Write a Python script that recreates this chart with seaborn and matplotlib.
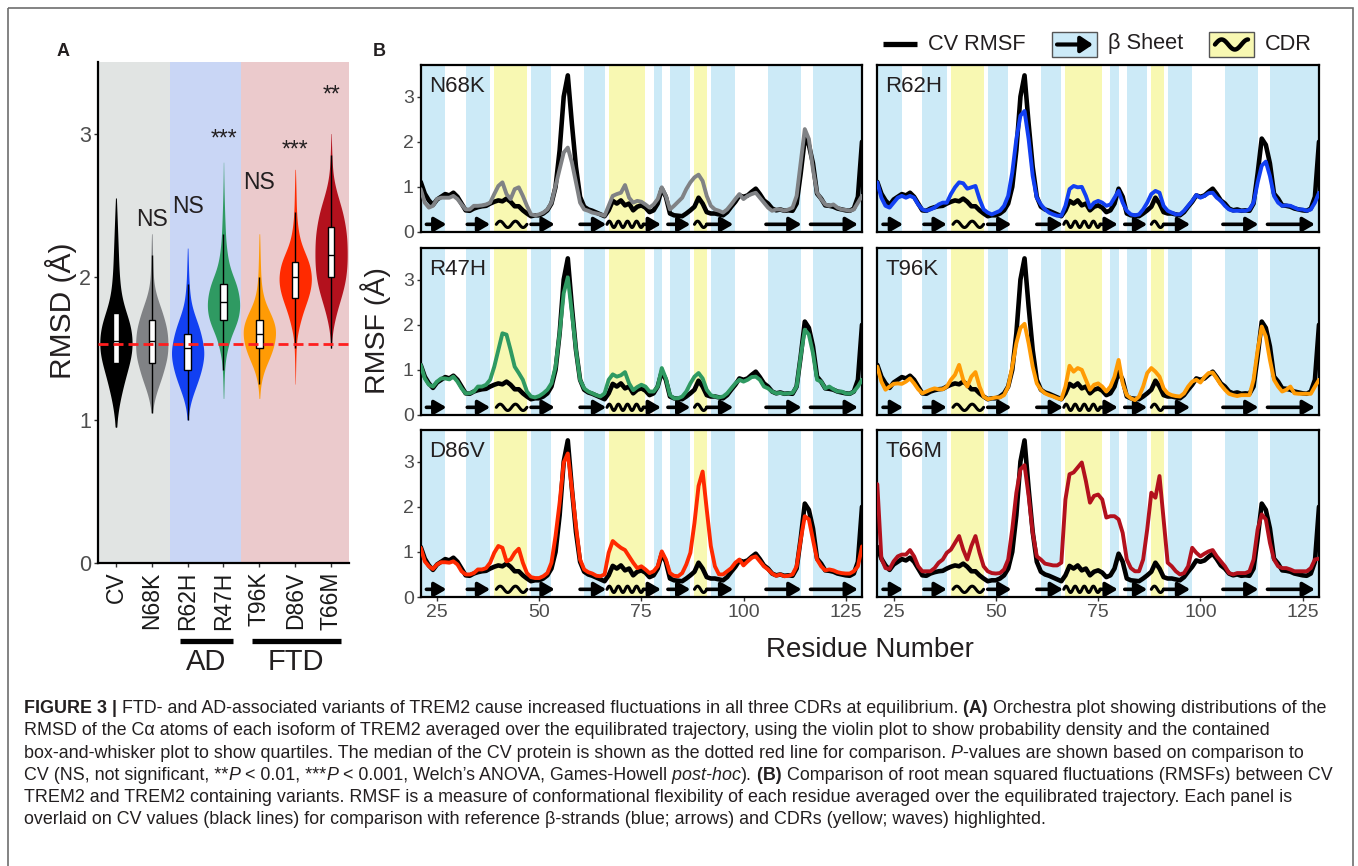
import numpy as np
import pandas as pd
import matplotlib
matplotlib.use("Agg")
import matplotlib.pyplot as plt
from matplotlib.patches import Rectangle
from matplotlib.font_manager import FontProperties, findfont
import seaborn as sns

W, H = 1358, 866

# ---------------- panel A : RMSD distributions
# violin width (px) read at each RMSD level -> used as histogram counts
ISOFORMS = ["CV", "N68K", "R62H", "R47H", "T96K", "D86V", "T66M"]
RMSD_BINS = [0.90, 0.95, 1.00, 1.05, 1.10, 1.15, 1.20, 1.25, 1.30, 1.35, 1.40,
             1.45, 1.50, 1.55, 1.60, 1.65, 1.70, 1.75, 1.80, 1.85, 1.90, 1.95,
             2.00, 2.05, 2.10, 2.15, 2.20, 2.25, 2.30, 2.35, 2.40, 2.45, 2.50,
             2.55, 2.60, 2.65, 2.70, 2.75, 2.80, 2.85, 2.90, 2.95, 3.00]
WIDTH_CV = [0, 1, 2.5, 4, 6, 9, 12, 15.5, 19, 23, 27, 30, 32, 32, 31, 29, 25, 20,
            15.5, 12, 9.5, 8, 7, 6, 5.5, 5, 4.5, 4, 3.5, 3, 2.5, 2, 1.5, 1,
            0, 0, 0, 0, 0, 0, 0, 0, 0]
WIDTH_N68K = [0, 0, 0, 1, 3, 6, 10, 15, 20, 24, 28, 31, 32, 32, 31, 29, 25, 21,
              16, 11, 7, 4.5, 3, 2.5, 2, 1.5, 1.2, 1, 0.6,
              0, 0, 0, 0, 0, 0, 0, 0, 0, 0, 0, 0, 0, 0]
WIDTH_R62H = [0, 0, 1, 2, 4.5, 8, 13, 18, 23, 27, 30, 32, 31.5, 29, 26, 22, 17,
              12, 8, 5.5, 4, 3, 2.2, 1.8, 1.4, 1, 0.6,
              0, 0, 0, 0, 0, 0, 0, 0, 0, 0, 0, 0, 0, 0, 0, 0]
WIDTH_R47H = [0, 0, 0, 0, 0, 0.5, 0.8, 1, 1.5, 2, 3, 5, 8, 11.5, 16, 23, 28, 31,
              32, 31, 28.5, 25, 19, 13.5, 10, 7.5, 6, 4.5, 3.8, 3.2, 2.7, 2.2,
              1.8, 1.4, 1.1, 0.8, 0.6, 0.4, 0.3, 0, 0, 0, 0]
WIDTH_T96K = [0, 0, 0, 0, 0, 0.7, 1.5, 3, 6, 10, 16, 22, 27, 30.5, 32, 31.5, 27,
              21, 14, 9, 6, 4, 3, 2.4, 2, 1.6, 1.3, 1, 0.6,
              0, 0, 0, 0, 0, 0, 0, 0, 0, 0, 0, 0, 0, 0]
WIDTH_D86V = [0, 0, 0, 0, 0, 0, 0, 0.3, 0.5, 0.8, 1, 1.4, 1.8, 2.5, 4.5, 7.5, 11,
              15, 20, 25, 29, 31.5, 32, 30, 27, 21, 15, 10, 7, 5, 3.5, 2.6, 2.1,
              1.8, 1.5, 1.2, 0.8, 0.5, 0, 0, 0, 0, 0]
WIDTH_T66M = [0, 0, 0, 0, 0, 0, 0, 0, 0, 0, 0, 0, 0.5, 1.2, 2.5, 4.5, 7.5, 11,
              15, 19.5, 23.5, 27, 29.5, 31, 32, 32, 32, 31.5, 30.5, 28.5, 26, 23,
              19, 14.5, 10.5, 7, 4.5, 3, 2.2, 1.6, 1.1, 0.7, 0.4]
SIG_LABELS = ["", "NS", "NS", "***", "NS", "***", "**"]
CV_MEDIAN = 1.53
GROUPS = ["AD", "FTD"]

# ---------------- panel B : per-residue RMSF
RESIDUES = list(range(21, 130))
RMSF_CV = [1.11, 0.85, 0.70, 0.60, 0.72, 0.78, 0.84, 0.81, 0.87, 0.78,
           0.63, 0.48, 0.47, 0.52, 0.55, 0.57, 0.58, 0.63, 0.67, 0.70,
           0.68, 0.74, 0.67, 0.57, 0.57, 0.48, 0.41, 0.35, 0.37, 0.37,
           0.41, 0.48, 0.63, 1.00, 1.81, 3.00, 3.47, 2.40, 1.44, 0.78,
           0.56, 0.50, 0.47, 0.43, 0.39, 0.35, 0.48, 0.69, 0.63, 0.70,
           0.59, 0.63, 0.48, 0.56, 0.59, 0.54, 0.44, 0.48, 0.63, 0.96,
           0.78, 0.41, 0.37, 0.36, 0.35, 0.41, 0.48, 0.56, 0.76, 0.63,
           0.44, 0.41, 0.41, 0.39, 0.37, 0.44, 0.56, 0.67, 0.81, 0.78,
           0.81, 0.89, 0.96, 0.84, 0.70, 0.63, 0.52, 0.48, 0.50, 0.47,
           0.48, 0.47, 0.63, 1.30, 2.07, 1.93, 1.52, 0.85, 0.74, 0.59,
           0.58, 0.56, 0.52, 0.50, 0.48, 0.47, 0.52, 0.78, 2.00]
RMSF_N68K = [0.95, 0.65, 0.54, 0.58, 0.73, 0.76, 0.76, 0.76, 0.80, 0.73,
             0.61, 0.50, 0.50, 0.58, 0.58, 0.59, 0.61, 0.65, 0.84, 1.02,
             1.10, 0.84, 0.73, 0.95, 0.99, 0.80, 0.58, 0.39, 0.37, 0.39,
             0.43, 0.50, 0.65, 1.02, 1.39, 1.76, 1.87, 1.54, 1.10, 0.65,
             0.50, 0.47, 0.43, 0.41, 0.39, 0.36, 0.58, 0.80, 0.84, 0.87,
             1.04, 0.76, 0.65, 0.69, 0.67, 0.61, 0.54, 0.61, 0.73, 0.99,
             0.80, 0.50, 0.58, 0.67, 0.76, 0.95, 1.10, 1.21, 1.27, 1.13,
             0.80, 0.58, 0.50, 0.47, 0.43, 0.50, 0.61, 0.73, 0.84, 0.73,
             0.80, 0.84, 0.87, 0.76, 0.65, 0.54, 0.47, 0.50, 0.50, 0.47,
             0.50, 0.54, 0.80, 1.54, 2.28, 2.06, 1.39, 0.87, 0.73, 0.61,
             0.58, 0.61, 0.54, 0.50, 0.49, 0.47, 0.50, 0.65, 0.80]
RMSF_R62H = [1.10, 0.76, 0.58, 0.54, 0.65, 0.76, 0.80, 0.76, 0.80, 0.76,
             0.61, 0.50, 0.47, 0.50, 0.54, 0.61, 0.65, 0.65, 0.84, 0.99,
             1.10, 1.08, 0.96, 0.99, 1.02, 0.73, 0.50, 0.43, 0.39, 0.43,
             0.47, 0.58, 0.80, 1.32, 2.06, 2.58, 2.68, 2.06, 1.24, 0.76,
             0.61, 0.50, 0.43, 0.39, 0.36, 0.36, 0.58, 0.95, 1.02, 0.99,
             1.00, 0.80, 0.54, 0.65, 0.69, 0.65, 0.58, 0.61, 0.76, 0.91,
             0.65, 0.47, 0.39, 0.37, 0.39, 0.50, 0.65, 0.84, 0.91, 0.87,
             0.58, 0.47, 0.43, 0.39, 0.39, 0.47, 0.58, 0.69, 0.82, 0.76,
             0.80, 0.86, 0.87, 0.76, 0.69, 0.58, 0.50, 0.47, 0.47, 0.47,
             0.47, 0.50, 0.65, 1.10, 1.47, 1.56, 1.24, 0.80, 0.65, 0.58,
             0.59, 0.58, 0.54, 0.50, 0.50, 0.47, 0.50, 0.65, 0.87]
RMSF_R47H = [1.11, 0.81, 0.67, 0.63, 0.74, 0.81, 0.81, 0.79, 0.85, 0.74,
             0.59, 0.48, 0.48, 0.52, 0.63, 0.63, 0.67, 0.78, 1.07, 1.44,
             1.81, 1.78, 1.44, 1.07, 0.93, 0.78, 0.52, 0.41, 0.39, 0.42,
             0.48, 0.56, 0.70, 1.07, 1.81, 2.70, 3.05, 2.26, 1.44, 0.78,
             0.59, 0.52, 0.48, 0.44, 0.41, 0.48, 0.78, 0.90, 0.85, 0.88,
             0.95, 0.70, 0.55, 0.62, 0.67, 0.63, 0.52, 0.52, 0.63, 1.04,
             0.81, 0.44, 0.37, 0.37, 0.41, 0.52, 0.70, 0.85, 0.93, 0.81,
             0.56, 0.44, 0.41, 0.39, 0.41, 0.48, 0.59, 0.70, 0.78, 0.74,
             0.78, 0.84, 0.85, 0.78, 0.63, 0.59, 0.52, 0.48, 0.49, 0.47,
             0.48, 0.49, 0.63, 1.30, 1.89, 1.78, 1.37, 0.78, 0.74, 0.59,
             0.63, 0.57, 0.52, 0.52, 0.48, 0.47, 0.52, 0.63, 0.78]
RMSF_T96K = [1.07, 0.74, 0.56, 0.63, 0.69, 0.70, 0.69, 0.74, 0.81, 0.70,
             0.57, 0.48, 0.52, 0.56, 0.59, 0.57, 0.57, 0.63, 0.78, 0.89,
             1.11, 0.78, 0.63, 0.85, 0.95, 0.63, 0.41, 0.35, 0.37, 0.39,
             0.39, 0.44, 0.63, 1.07, 1.59, 1.93, 2.02, 1.59, 1.07, 0.70,
             0.56, 0.48, 0.44, 0.41, 0.37, 0.35, 0.63, 1.09, 0.96, 1.04,
             1.00, 0.78, 0.56, 0.67, 0.70, 0.63, 0.52, 0.63, 0.85, 1.22,
             0.70, 0.44, 0.37, 0.33, 0.41, 0.63, 0.93, 1.04, 0.96, 0.85,
             0.59, 0.48, 0.44, 0.42, 0.41, 0.48, 0.63, 0.74, 0.78, 0.72,
             0.84, 0.93, 0.94, 0.81, 0.67, 0.56, 0.47, 0.44, 0.42, 0.44,
             0.44, 0.44, 0.78, 1.44, 1.96, 1.74, 1.22, 0.78, 0.63, 0.52,
             0.56, 0.63, 0.48, 0.47, 0.47, 0.47, 0.47, 0.63, 0.78]
RMSF_D86V = [1.09, 0.79, 0.68, 0.62, 0.72, 0.77, 0.77, 0.76, 0.79, 0.72,
             0.57, 0.50, 0.50, 0.53, 0.61, 0.61, 0.64, 0.76, 0.98, 1.13,
             1.09, 0.79, 0.83, 0.98, 1.07, 0.76, 0.53, 0.44, 0.42, 0.42,
             0.46, 0.53, 0.76, 1.35, 2.09, 2.98, 3.18, 2.39, 1.57, 0.83,
             0.61, 0.55, 0.52, 0.47, 0.46, 0.50, 0.98, 1.24, 1.16, 1.09,
             1.04, 0.90, 0.76, 0.64, 0.68, 0.61, 0.53, 0.57, 0.68, 1.01,
             0.83, 0.53, 0.47, 0.46, 0.53, 0.72, 0.98, 1.64, 2.46, 2.78,
             1.94, 1.13, 0.68, 0.50, 0.50, 0.57, 0.64, 0.76, 0.83, 0.70,
             0.79, 0.87, 0.90, 0.79, 0.68, 0.61, 0.52, 0.47, 0.50, 0.46,
             0.47, 0.50, 0.68, 1.27, 1.79, 1.72, 1.27, 0.83, 0.68, 0.59,
             0.61, 0.59, 0.55, 0.53, 0.52, 0.52, 0.57, 0.68, 1.12]
RMSF_T66M = [2.50, 0.85, 0.64, 0.62, 0.79, 0.90, 0.94, 0.94, 1.04, 0.90,
             0.68, 0.57, 0.57, 0.57, 0.64, 0.76, 0.83, 0.98, 1.05, 1.20,
             1.35, 1.05, 0.83, 1.13, 1.35, 0.98, 0.68, 0.57, 0.53, 0.52,
             0.53, 0.61, 0.83, 1.50, 2.31, 2.83, 2.92, 2.24, 1.42, 0.90,
             0.83, 0.74, 0.72, 0.70, 0.70, 0.76, 2.16, 2.72, 2.76, 2.87,
             2.98, 2.57, 2.09, 2.24, 2.27, 2.16, 1.76, 1.79, 1.79, 1.72,
             1.42, 0.83, 0.64, 0.57, 0.57, 0.83, 1.50, 2.31, 2.20, 2.68,
             1.72, 0.76, 0.68, 0.57, 0.50, 0.53, 0.68, 1.09, 0.98, 0.90,
             0.96, 1.01, 1.04, 0.90, 0.79, 0.68, 0.53, 0.50, 0.53, 0.53,
             0.53, 0.57, 0.83, 1.50, 1.83, 1.72, 1.20, 0.83, 0.68, 0.64,
             0.64, 0.61, 0.57, 0.57, 0.57, 0.57, 0.64, 0.83, 0.85]
BETA_STRANDS = [(21, 27), (32, 38), (48, 53), (61, 66), (78, 80), (82, 87),
                (92, 98), (106, 114), (117, 129)]
CDRS = [(39, 47), (67, 76), (88, 91)]
ARROW_SPANS = [(22.4, 27.3), (32.4, 38.0), (48.0, 53.8), (60.0, 66.4), (75.5, 79.8),
               (81.5, 87.0), (91.0, 97.5), (105.5, 114.2), (116.4, 128.0)]
WAVE_SPANS = [(39.5, 47.0), (66.6, 75.5), (88.0, 91.0)]
WAVE_BUMPS = [2, 4, 1]
PANELS = ["N68K", "R62H", "R47H", "T96K", "D86V", "T66M"]

WIDTHS = {"CV": WIDTH_CV, "N68K": WIDTH_N68K, "R62H": WIDTH_R62H, "R47H": WIDTH_R47H,
          "T96K": WIDTH_T96K, "D86V": WIDTH_D86V, "T66M": WIDTH_T66M}
RMSF = {"N68K": RMSF_N68K, "R62H": RMSF_R62H, "R47H": RMSF_R47H,
        "T96K": RMSF_T96K, "D86V": RMSF_D86V, "T66M": RMSF_T66M}

# styling
COLORS = {"CV": "#000000", "N68K": "#808285", "R62H": "#1240f2", "R47H": "#2f9a62",
          "T96K": "#ff9b05", "D86V": "#ff2a00", "T66M": "#b3111d"}
SHADES = [(-0.5, 1.5, "#e1e4e3"), (1.5, 3.5, "#c9d6f5"), (3.5, 6.5, "#ebcacc")]
BETA_COL = "#cceaf7"
CDR_COL = "#f8f8b2"
TXT = "#231f20"

sns.set_style("ticks")
plt.rcParams["font.family"] = ["Liberation Sans", "DejaVu Sans"]
try:
    findfont(FontProperties(family="Liberation Sans Narrow"), fallback_to_default=False)
    CAP_FONT = ["Liberation Sans Narrow", "DejaVu Sans"]
except Exception:
    CAP_FONT = ["Liberation Sans", "DejaVu Sans"]

fig = plt.figure(figsize=(W / 100, H / 100), dpi=100)


def px_axes(left, top, right, bottom):
    return fig.add_axes([left / W, 1 - bottom / H, (right - left) / W, (bottom - top) / H])


# overlay for decorations in pixel coordinates
ov = fig.add_axes([0, 0, 1, 1])
ov.set_xlim(0, W)
ov.set_ylim(H, 0)
ov.axis("off")
ov.add_patch(Rectangle((8, 8), 1345, 900, fill=False, ec="#6e6e6e", lw=1.2))

# ================= panel A
frames = []
for k in ISOFORMS:
    counts = np.rint(np.array(WIDTHS[k]) * 10).astype(int)
    frames.append(pd.DataFrame({"isoform": k, "rmsd": np.repeat(RMSD_BINS, counts)}))
df = pd.concat(frames, ignore_index=True)

axA = px_axes(98, 62, 349, 563)
for lo, hi, c in SHADES:
    axA.axvspan(lo, hi, color=c, lw=0, zorder=0)
sns.violinplot(data=df, x="isoform", y="rmsd", hue="isoform", order=ISOFORMS,
               hue_order=ISOFORMS, palette=COLORS, density_norm="width", width=0.9,
               inner=None, linewidth=0, cut=0, bw_adjust=1.0, saturation=1,
               legend=False, ax=axA)
sns.boxplot(data=df, x="isoform", y="rmsd", order=ISOFORMS, width=0.18, color="white",
            linecolor="black", linewidth=1, showfliers=False, showcaps=False,
            saturation=1, ax=axA)
axA.axhline(CV_MEDIAN, color="#ff1f1f", lw=2, dashes=(3.6, 1.8), zorder=6)
sig_y = [0, 2.40, 2.49, 2.96, 2.66, 2.885, 3.27]
for i, lab in enumerate(SIG_LABELS):
    if lab:
        axA.text(i, sig_y[i], lab, ha="center", va="center", fontsize=16.5, color=TXT)
axA.set_xlim(-0.5, 6.5)
axA.set_ylim(0, 3.5)
axA.set_yticks([0, 1, 2, 3])
axA.set_xlabel("")
axA.set_ylabel("")
axA.tick_params(axis="y", labelsize=15.5, labelcolor="#4d4d4d", length=3, width=1,
                color="#333333", pad=2)
axA.tick_params(axis="x", labelsize=16.5, labelcolor="#1a1a1a", length=3, width=1,
                color="#333333", pad=3, labelrotation=90)
for s in ["top", "right"]:
    axA.spines[s].set_visible(False)
for s in ["left", "bottom"]:
    axA.spines[s].set_linewidth(1.6)
    axA.spines[s].set_color("black")

fig.text(61 / W, 1 - 311 / H, "RMSD (Å)", rotation=90, ha="center", va="center",
         fontsize=21.5, color=TXT)
fig.text(63 / W, 1 - 52 / H, "A", ha="center", va="center", fontsize=13,
         fontweight="bold", color=TXT)
for (x0, x1, xc), g in zip([(180, 233, 206), (252, 341, 296)], GROUPS):
    ov.plot([x0, x1], [641, 641], color="black", lw=3.8, solid_capstyle="butt")
    ov.text(xc, 662, g, ha="center", va="center", fontsize=21, color=TXT)

# ================= panel B
cols = [(420.7, 862), (877.3, 1319)]
rows = [(65, 232), (248, 415), (430, 597)]
for k, name in enumerate(PANELS):
    r, c = divmod(k, 2)
    ax = px_axes(cols[c][0], rows[r][0], cols[c][1], rows[r][1])
    for a, b in BETA_STRANDS:
        ax.axvspan(a, b, color=BETA_COL, lw=0, zorder=0)
    for a, b in CDRS:
        ax.axvspan(a, b, color=CDR_COL, lw=0, zorder=0)
    for a, b in ARROW_SPANS:
        ax.annotate("", xy=(b, 0.17), xytext=(a, 0.17),
                    arrowprops=dict(arrowstyle="-|>,head_length=0.6,head_width=0.35",
                                    color="black", lw=2.6, shrinkA=0, shrinkB=0,
                                    mutation_scale=12))
    for (a, b), n in zip(WAVE_SPANS, WAVE_BUMPS):
        xs = np.linspace(a, b, 120)
        ax.plot(xs, 0.17 + 0.07 * np.sin(2 * np.pi * n * (xs - a) / (b - a)),
                color="black", lw=2.2, solid_capstyle="round")
    sns.lineplot(x=RESIDUES, y=RMSF_CV, color="black", lw=3.3, ax=ax, zorder=3)
    sns.lineplot(x=RESIDUES, y=RMSF[name], color=COLORS[name], lw=2.8, ax=ax, zorder=4)
    ax.text(0.018, 0.87, name, transform=ax.transAxes, ha="left", va="center",
            fontsize=16, color=TXT)
    ax.set_xlim(21, 129)
    ax.set_ylim(0, 3.7)
    ax.set_xlabel("")
    ax.set_ylabel("")
    for s in ax.spines.values():
        s.set_linewidth(1.6)
        s.set_color("black")
    ax.set_yticks([0, 1, 2, 3])
    ax.set_xticks([25, 50, 75, 100, 125])
    ax.tick_params(axis="both", labelsize=14, labelcolor="#4d4d4d", length=3, width=1,
                   color="#333333", pad=2)
    if c == 1:
        ax.tick_params(axis="y", left=False, labelleft=False)
    if r < 2:
        ax.tick_params(axis="x", bottom=False, labelbottom=False)

fig.text(379 / W, 1 - 52 / H, "B", ha="center", va="center", fontsize=13,
         fontweight="bold", color=TXT)
fig.text(376 / W, 1 - 331 / H, "RMSF (Å)", rotation=90, ha="center", va="center",
         fontsize=20.5, color=TXT)
fig.text(870 / W, 1 - 650 / H, "Residue Number", ha="center", va="center",
         fontsize=20, color=TXT)

# legend
ov.plot([883, 917], [44, 44], color="black", lw=3.8, solid_capstyle="butt")
ov.text(928, 44, "CV RMSF", ha="left", va="center", fontsize=15.7, color=TXT)
ov.add_patch(Rectangle((1052, 32), 45, 25, fc=BETA_COL, ec="#555555", lw=1))
ov.annotate("", xy=(1093, 44.5), xytext=(1057, 44.5),
            arrowprops=dict(arrowstyle="-|>,head_length=0.6,head_width=0.4",
                            color="black", lw=3, shrinkA=0, shrinkB=0, mutation_scale=12))
ov.text(1108, 44, "β Sheet", ha="left", va="center", fontsize=15.7, color=TXT)
ov.add_patch(Rectangle((1209, 32), 45, 25, fc=CDR_COL, ec="#555555", lw=1))
wx = np.linspace(1215, 1248, 80)
ov.plot(wx, 44.5 - 5 * np.sin(2 * np.pi * 1.25 * (wx - 1215) / 33), color="black",
        lw=3.2, solid_capstyle="round")
ov.text(1265, 44, "CDR", ha="left", va="center", fontsize=15.7, color=TXT)

# ================= caption
N, B, I = ("normal", "normal"), ("bold", "normal"), ("normal", "italic")
CAPTION = [
    [("FIGURE 3 |", B), (" FTD- and AD-associated variants of TREM2 cause increased fluctuations"
      " in all three CDRs at equilibrium.", N), (" (A)", B),
     (" Orchestra plot showing distributions of the", N)],
    [("RMSD of the Cα atoms of each isoform of TREM2 averaged over the equilibrated trajectory,"
      " using the violin plot to show probability density and the contained", N)],
    [("box-and-whisker plot to show quartiles. The median of the CV protein is shown as the"
      " dotted red line for comparison.", N), (" P", I),
     ("-values are shown based on comparison to", N)],
    [("CV (NS, not significant, **", N), ("P", I), (" < 0.01, ***", N), ("P", I),
     (" < 0.001, Welch’s ANOVA, Games-Howell", N), (" post-hoc", I), (").", N),
     (" (B)", B), (" Comparison of root mean squared fluctuations (RMSFs) between CV", N)],
    [("TREM2 and TREM2 containing variants. RMSF is a measure of conformational flexibility"
      " of each residue averaged over the equilibrated trajectory. Each panel is", N)],
    [("overlaid on CV values (black lines) for comparison with reference β-strands"
      " (blue; arrows) and CDRs (yellow; waves) highlighted.", N)],
]
renderer = fig.canvas.get_renderer()


def put_line(segs, x_px, y_px, size):
    x = x_px
    for txt, (wt, st) in segs:
        t = fig.text(x / W, 1 - y_px / H, txt, fontsize=size, fontweight=wt, fontstyle=st,
                     family=CAP_FONT, ha="left", va="baseline", color=TXT)
        x += t.get_window_extent(renderer).width
    return x - x_px


probe = fig.text(0, 0, "".join(s for s, _ in CAPTION[0]), fontsize=10, family=CAP_FONT)
cap_size = 10 * 1307 / probe.get_window_extent(renderer).width
probe.remove()
for j, segs in enumerate(CAPTION):
    put_line(segs, 24, 713 + 22.3 * j, cap_size)

fig.savefig("out.png", dpi=100)
